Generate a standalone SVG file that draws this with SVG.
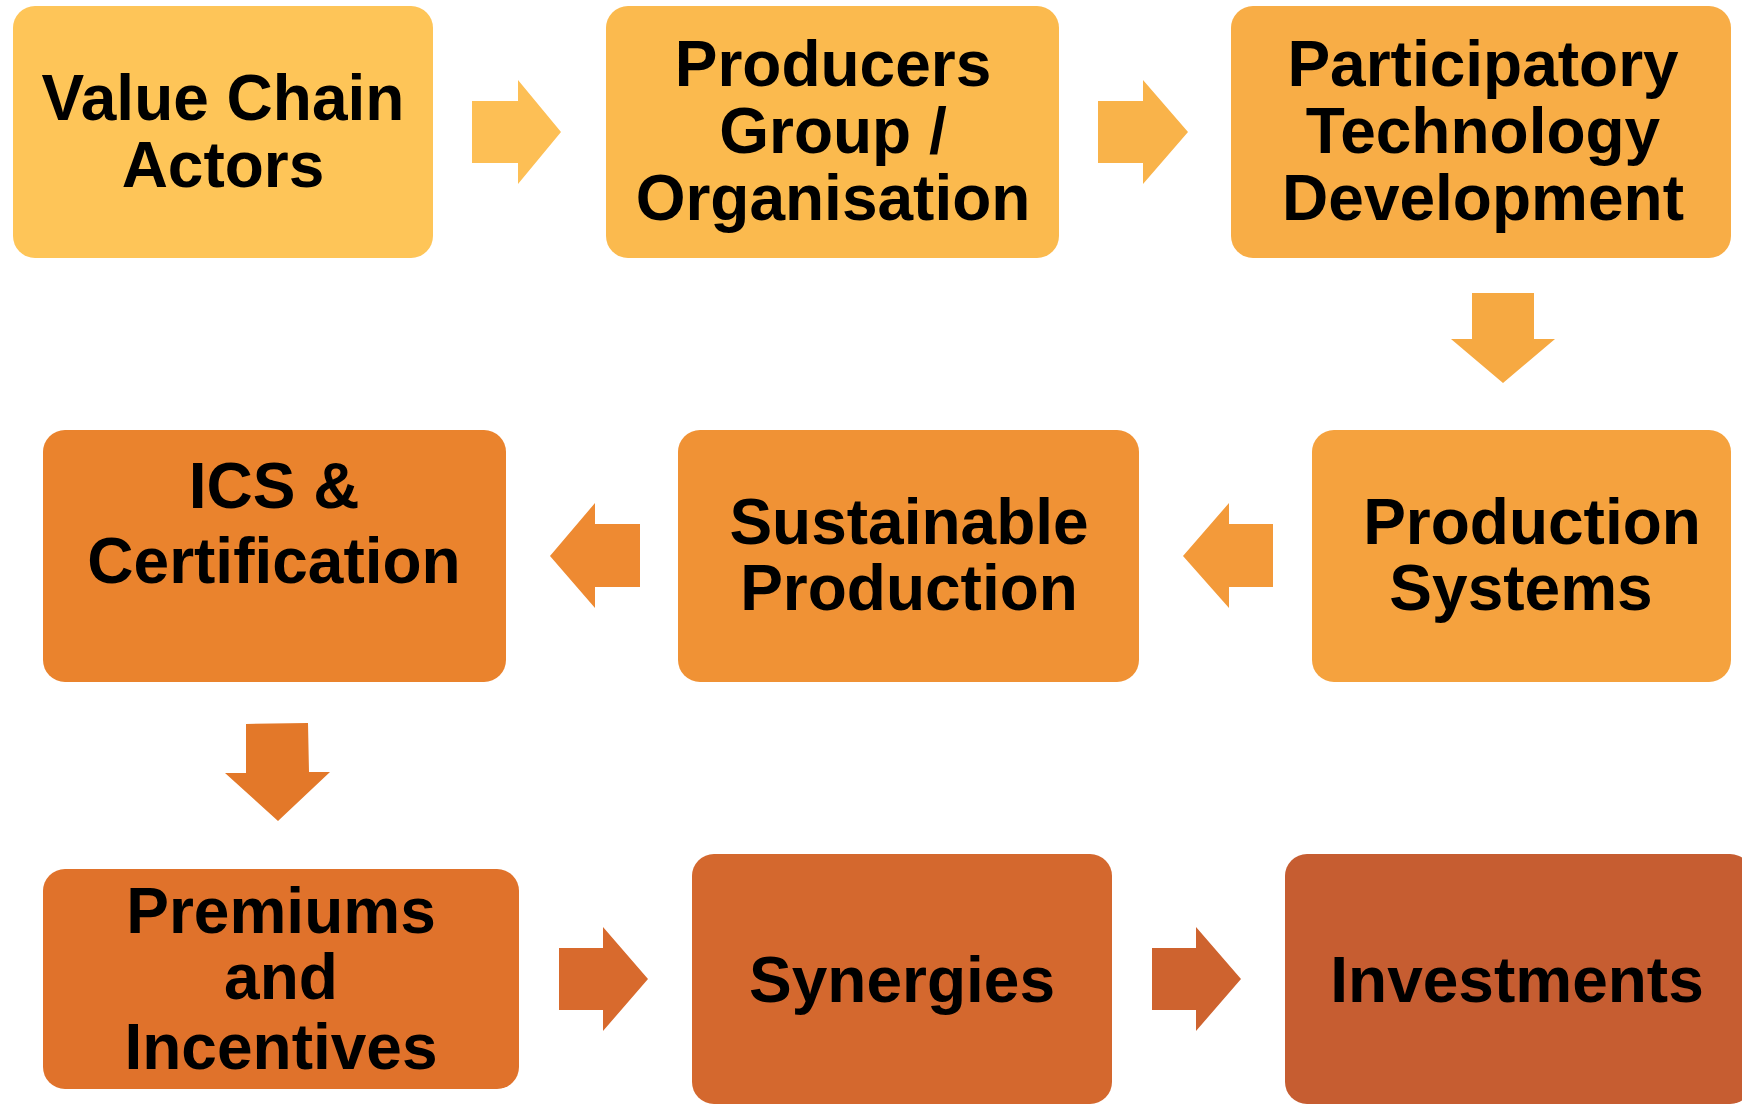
<svg xmlns="http://www.w3.org/2000/svg" width="1742" height="1110" viewBox="0 0 1742 1110">
<style>
.box { rx: 22px; ry: 22px; }
text { font-family: "Liberation Sans", Arial, sans-serif; font-weight: bold; font-size: 64px; fill: #000; text-anchor: middle; }
</style>
<rect width="1742" height="1110" fill="#fff"/>
<g id="connectors">
  <polygon id="a1" fill="#FDBF55" points="472,101 518,101 518,80 561,132 518,184 518,163 472,163"/>
  <polygon id="a2" fill="#F9B34A" points="1098,101 1143,101 1143,80 1188,132 1143,184 1143,163 1098,163"/>
  <polygon id="a3" fill="#F6A942" points="1472,293 1534,293 1534,339 1555,339 1503,383 1451,339 1472,339"/>
  <polygon id="a4" fill="#F39A3A" points="1273,524 1229,524 1229,503 1183,556 1229,608 1229,587 1273,587"/>
  <polygon id="a5" fill="#EE8A32" points="640,524 595,524 595,503 550,556 595,608 595,587 640,587"/>
  <polygon id="a6" fill="#E37829" points="246,724 308,723 309,772 330,772 278,821 225,773 246,773"/>
  <polygon id="a7" fill="#D86A2D" points="559,948 603,948 603,927 648,979 603,1031 603,1010 559,1010"/>
  <polygon id="a8" fill="#CE632F" points="1152,948 1196,948 1196,927 1241,979 1196,1031 1196,1010 1152,1010"/>
</g>
<g id="n1">
  <rect class="box" x="13" y="6" width="420" height="252" fill="#FEC558"/>
  <text x="223" y="120">Value Chain</text>
  <text x="223" y="187">Actors</text>
</g>
<g id="n2">
  <rect class="box" x="606" y="6" width="453" height="252" fill="#FBBA4E"/>
  <text x="833" y="86">Producers</text>
  <text x="833" y="153">Group /</text>
  <text x="833" y="220">Organisation</text>
</g>
<g id="n3">
  <rect class="box" x="1231" y="6" width="500" height="252" fill="#F8AD46"/>
  <text x="1483" y="86">Participatory</text>
  <text x="1483" y="153">Technology</text>
  <text x="1483" y="220">Development</text>
</g>
<g id="n4">
  <rect class="box" x="1312" y="430" width="419" height="252" fill="#F5A23E"/>
  <text x="1532" y="544">Production</text>
  <text x="1521" y="610">Systems</text>
</g>
<g id="n5">
  <rect class="box" x="678" y="430" width="461" height="252" fill="#F09235"/>
  <text x="909" y="544">Sustainable</text>
  <text x="909" y="610">Production</text>
</g>
<g id="n6">
  <rect class="box" x="43" y="430" width="463" height="252" fill="#EA832D"/>
  <text x="274" y="508">ICS &amp;</text>
  <text x="274" y="583">Certification</text>
</g>
<g id="n7">
  <rect class="box" x="43" y="869" width="476" height="220" fill="#E0722B"/>
  <text x="281" y="933">Premiums</text>
  <text x="281" y="999">and</text>
  <text x="281" y="1069">Incentives</text>
</g>
<g id="n8">
  <rect class="box" x="692" y="854" width="420" height="250" fill="#D4682E"/>
  <text x="902" y="1002">Synergies</text>
</g>
<g id="n9">
  <rect class="box" x="1285" y="854" width="467" height="250" fill="#C65D31"/>
  <text x="1517" y="1002">Investments</text>
</g>
</svg>
